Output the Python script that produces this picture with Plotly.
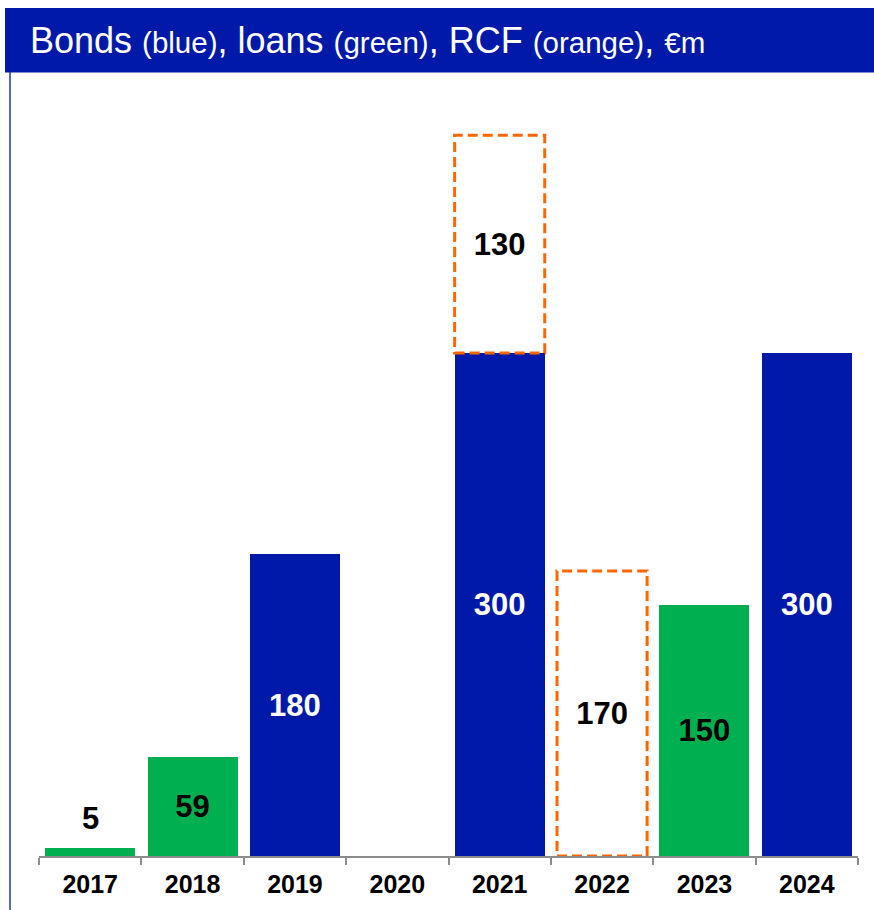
import plotly.graph_objects as go

# ---- data ----
years = ["2017", "2018", "2019", "2020", "2021", "2022", "2023", "2024"]
bonds = [None, None, 180, None, 300, None, None, 300]
loans = [5, 59, None, None, None, None, 150, None]
rcf = [None, None, None, None, 130, 170, None, None]
outside_label_years = ["2017"]  # labels drawn above the bar

# ---- style ----
BLUE = "#0019A8"
GREEN = "#00B050"
ORANGE = "#FF6600"
FONT = "Liberation Sans, Arial, sans-serif"
W, H = 874, 910
ML, MR, MT, MB = 39, 16, 100, 54
PW, PH = W - ML - MR, H - MT - MB
YMAX = 451
BARGAP = 0.12
LABEL_SIZE = 31


def px_x(px):
    return (px - ML) / PW


def px_y(py):
    return (H - MB - py) / PH


def labels(vals, yrs, skip=()):
    return [("" if (v is None or y in skip) else str(v)) for v, y in zip(vals, yrs)]


fig = go.Figure()
fig.add_trace(go.Bar(
    x=years, y=bonds, name="Bonds", marker=dict(color=BLUE, line=dict(width=0)),
    text=labels(bonds, years), textposition="inside", insidetextanchor="middle",
    textfont=dict(color="white", size=LABEL_SIZE, family=FONT, weight="bold"),
))
fig.add_trace(go.Bar(
    x=years, y=loans, name="Loans", marker=dict(color=GREEN, line=dict(width=0)),
    text=labels(loans, years, outside_label_years), textposition="inside", insidetextanchor="middle",
    textfont=dict(color="black", size=LABEL_SIZE, family=FONT, weight="bold"),
))
fig.add_trace(go.Bar(
    x=years, y=rcf, name="RCF", marker=dict(color="white", line=dict(width=0)),
    text=labels(rcf, years), textposition="inside", insidetextanchor="middle",
    textfont=dict(color="black", size=LABEL_SIZE, family=FONT, weight="bold"),
))

shapes = []
half = (1 - BARGAP) / 2
# dashed outlines for RCF, stacked on bonds/loans where present
for i, y in enumerate(years):
    if rcf[i] is None:
        continue
    base = (bonds[i] or 0) + (loans[i] or 0)
    shapes.append(dict(
        type="rect", xref="x", yref="y", x0=i - half, x1=i + half,
        y0=base, y1=base + rcf[i], layer="above",
        line=dict(color=ORANGE, width=3, dash="10px,5px"), fillcolor="rgba(0,0,0,0)",
    ))

# title banner and left border
shapes.append(dict(type="rect", xref="paper", yref="paper",
                   x0=px_x(5), x1=px_x(W + 2), y0=px_y(72.5), y1=px_y(8),
                   fillcolor=BLUE, line=dict(width=0), layer="above"))
shapes.append(dict(type="line", xref="paper", yref="paper",
                   x0=px_x(10), x1=px_x(10), y0=px_y(72), y1=px_y(H + 2),
                   line=dict(color="#1f33b5", width=1.5)))

annotations = []
for i, y in enumerate(years):
    if y in outside_label_years and loans[i] is not None:
        annotations.append(dict(
            x=i, y=loans[i], xref="x", yref="y", text=str(loans[i]), showarrow=False,
            yanchor="bottom", yshift=10,
            font=dict(color="black", size=LABEL_SIZE, family=FONT, weight="bold"),
        ))

S = '<span style="font-size:29.5px">'
title = (f"Bonds {S}(blue)</span>, loans {S}(green)</span>, RCF {S}(orange)</span>, "
         f"{S}€m</span>")
annotations.append(dict(
    xref="paper", yref="paper", x=px_x(28), y=px_y(40), xanchor="left", yanchor="middle",
    text=title, showarrow=False, font=dict(color="white", size=36, family=FONT),
))

fig.update_layout(
    width=W, height=H, margin=dict(l=ML, r=MR, t=MT, b=MB, pad=0),
    paper_bgcolor="white", plot_bgcolor="white",
    barmode="stack", bargap=BARGAP, showlegend=False,
    shapes=shapes, annotations=annotations,
    xaxis=dict(
        type="category", categoryorder="array", categoryarray=years,
        range=[-0.5, len(years) - 0.5], tickson="boundaries",
        ticks="outside", ticklen=7, tickwidth=2, tickcolor="#8c8c8c",
        showline=True, linecolor="#8c8c8c", linewidth=2, showgrid=False,
        tickfont=dict(color="black", size=25, family=FONT, weight="bold"),
        ticklabelstandoff=5,
    ),
    yaxis=dict(range=[0, YMAX], visible=False, showgrid=False, zeroline=False),
)

fig.write_html("out.html")
